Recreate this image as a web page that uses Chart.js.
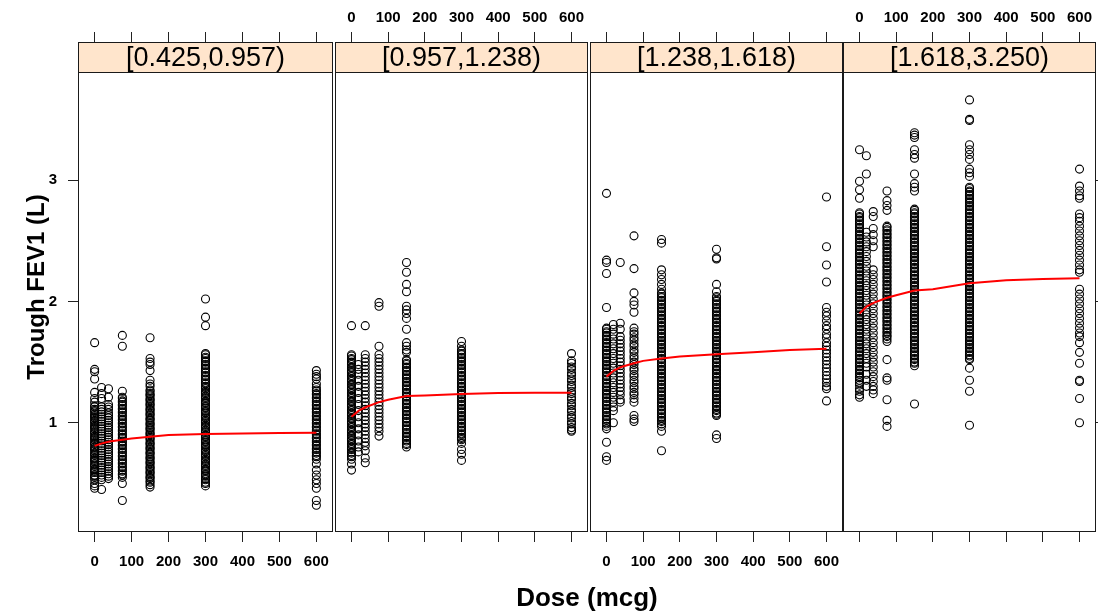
<!DOCTYPE html>
<html>
<head>
<meta charset="utf-8">
<script src="https://cdn.jsdelivr.net/npm/chart.js@4/dist/chart.umd.min.js"></script>
<style>
  body { margin: 0; background: #fff; }
  #wrap { position: relative; width: 1098px; height: 614px; overflow: hidden;
          font-family: "Liberation Sans", Arial, sans-serif; }
  #wrap canvas { position: absolute; left: 0; top: 0; }
  .xlab { position: absolute; left: 387px; top: 582px; width: 400px; line-height: 30px;
          text-align: center; font-weight: bold; font-size: 26px; color: #000; }
  .ylab { position: absolute; left: -114px; top: 272px; width: 300px; line-height: 30px;
          text-align: center; font-weight: bold; font-size: 24px; color: #000;
          transform: rotate(-90deg); }
</style>
</head>
<body>
<div id="wrap">
  <canvas id="p0" width="1098" height="614"></canvas>
  <canvas id="p1" width="1098" height="614"></canvas>
  <canvas id="p2" width="1098" height="614"></canvas>
  <canvas id="p3" width="1098" height="614"></canvas>
  <div class="ylab">Trough FEV1 (L)</div>
  <div class="xlab">Dose (mcg)</div>
</div>
<script>
// Baseline FEV1 groups (one panel each)
const strips = ["[0.425,0.957)", "[0.957,1.238)", "[1.238,1.618)", "[1.618,3.250)"];
const doses = [0, 18.75, 37.5, 75, 150, 300, 600];
const xTicks = [0, 100, 200, 300, 400, 500, 600];
const yTicks = [1, 2, 3];

// observed trough FEV1 per dose, panel 1
const obs1 = [
  [1.66,1.44,1.42,1.36,1.25,1.20,1.17,1.14,1.13,1.11,1.10,1.09,1.07,1.06,1.05,1.04,1.02,1.01,1.00,0.98,0.97,0.96,0.95,0.93,0.92,0.91,0.89,0.88,0.87,0.86,0.84,0.83,0.82,0.80,0.79,0.78,0.77,0.75,0.74,0.73,0.71,0.70,0.69,0.68,0.66,0.65,0.64,0.62,0.61,0.60,0.59,0.57,0.56,0.55,0.53,0.50,0.48,0.46],
  [1.29,1.24,1.20,1.13,1.11,1.09,1.07,1.05,1.03,1.01,0.99,0.97,0.95,0.93,0.91,0.89,0.87,0.85,0.83,0.81,0.79,0.77,0.75,0.73,0.71,0.69,0.67,0.65,0.63,0.61,0.59,0.57,0.55,0.53,0.45],
  [1.28,1.21,1.15,1.13,1.11,1.08,1.06,1.04,1.02,1.00,0.98,0.96,0.94,0.92,0.90,0.88,0.86,0.84,0.82,0.80,0.78,0.76,0.74,0.72,0.70,0.68,0.66,0.64,0.62,0.60,0.58,0.56,0.54],
  [1.72,1.63,1.26,1.21,1.20,1.18,1.17,1.15,1.14,1.12,1.11,1.09,1.08,1.06,1.05,1.03,1.02,1.00,0.99,0.97,0.96,0.94,0.93,0.91,0.90,0.88,0.87,0.85,0.84,0.82,0.81,0.79,0.78,0.76,0.75,0.73,0.72,0.70,0.69,0.67,0.66,0.64,0.63,0.61,0.60,0.58,0.57,0.55,0.50,0.36],
  [1.70,1.53,1.50,1.48,1.43,1.35,1.32,1.30,1.27,1.26,1.24,1.23,1.22,1.20,1.19,1.18,1.16,1.15,1.14,1.12,1.11,1.10,1.08,1.07,1.06,1.04,1.03,1.02,1.00,0.99,0.98,0.96,0.95,0.94,0.92,0.91,0.90,0.88,0.87,0.86,0.84,0.83,0.82,0.80,0.79,0.78,0.76,0.75,0.74,0.72,0.71,0.70,0.68,0.67,0.66,0.64,0.63,0.62,0.60,0.59,0.58,0.56,0.55,0.54,0.52,0.51,0.49,0.47],
  [2.02,1.87,1.80,1.57,1.56,1.54,1.53,1.51,1.50,1.48,1.47,1.45,1.44,1.42,1.41,1.39,1.38,1.36,1.35,1.33,1.32,1.30,1.29,1.28,1.26,1.25,1.24,1.22,1.21,1.20,1.18,1.17,1.16,1.14,1.13,1.12,1.10,1.09,1.08,1.06,1.05,1.04,1.02,1.01,1.00,0.98,0.97,0.96,0.94,0.93,0.92,0.90,0.89,0.88,0.86,0.85,0.84,0.82,0.81,0.80,0.78,0.77,0.76,0.74,0.73,0.72,0.70,0.69,0.68,0.66,0.65,0.64,0.62,0.61,0.60,0.58,0.57,0.56,0.54,0.53,0.51,0.50,0.48],
  [1.43,1.40,1.38,1.36,1.32,1.29,1.27,1.26,1.24,1.23,1.21,1.20,1.18,1.17,1.15,1.14,1.12,1.11,1.09,1.08,1.06,1.05,1.03,1.02,1.00,0.99,0.97,0.96,0.94,0.93,0.91,0.90,0.88,0.87,0.85,0.84,0.82,0.81,0.79,0.78,0.76,0.75,0.73,0.72,0.70,0.66,0.61,0.57,0.53,0.50,0.46,0.36,0.32]
];
// panel 2
const obs2 = [
  [1.80,1.56,1.55,1.53,1.52,1.50,1.49,1.48,1.46,1.45,1.43,1.42,1.41,1.39,1.38,1.36,1.35,1.34,1.32,1.31,1.29,1.28,1.27,1.25,1.24,1.22,1.21,1.20,1.18,1.17,1.15,1.14,1.13,1.11,1.10,1.08,1.07,1.06,1.04,1.03,1.01,1.00,0.99,0.97,0.96,0.94,0.93,0.92,0.90,0.89,0.87,0.86,0.85,0.83,0.82,0.80,0.79,0.78,0.76,0.75,0.73,0.72,0.70,0.66,0.61],
  [1.48,1.44,1.40,1.35,1.30,1.25,1.20,1.15,1.10,1.05,1.00,0.95,0.90,0.85,0.80,0.76],
  [1.80,1.56,1.53,1.50,1.47,1.44,1.41,1.38,1.35,1.32,1.29,1.26,1.23,1.20,1.17,1.14,1.11,1.08,1.05,1.02,0.99,0.96,0.93,0.90,0.87,0.84,0.81,0.77,0.71,0.67],
  [1.99,1.96,1.63,1.56,1.53,1.50,1.47,1.44,1.41,1.38,1.35,1.32,1.29,1.26,1.23,1.20,1.17,1.14,1.11,1.08,1.05,1.02,0.99,0.96,0.93,0.89],
  [2.32,2.24,2.14,2.08,1.96,1.93,1.90,1.86,1.77,1.66,1.63,1.60,1.58,1.52,1.51,1.49,1.48,1.46,1.45,1.43,1.42,1.40,1.39,1.37,1.36,1.34,1.33,1.31,1.30,1.28,1.27,1.25,1.24,1.22,1.21,1.19,1.18,1.16,1.15,1.13,1.12,1.10,1.09,1.07,1.06,1.04,1.03,1.01,1.00,0.98,0.97,0.95,0.94,0.92,0.91,0.89,0.88,0.86,0.85,0.83,0.82,0.80],
  [1.67,1.63,1.60,1.59,1.57,1.56,1.54,1.53,1.51,1.50,1.48,1.47,1.45,1.44,1.42,1.41,1.39,1.38,1.36,1.35,1.33,1.32,1.30,1.29,1.27,1.26,1.24,1.23,1.21,1.20,1.18,1.17,1.15,1.14,1.12,1.11,1.09,1.08,1.06,1.05,1.03,1.02,1.00,0.99,0.97,0.96,0.94,0.93,0.91,0.90,0.88,0.87,0.86,0.83,0.78,0.74,0.69],
  [1.57,1.51,1.49,1.46,1.44,1.41,1.39,1.36,1.34,1.31,1.29,1.26,1.24,1.21,1.19,1.16,1.14,1.11,1.09,1.06,1.04,1.01,0.99,0.96,0.94,0.93]
];
// panel 3
const obs3 = [
  [2.89,2.34,2.32,2.23,1.95,1.78,1.77,1.75,1.74,1.72,1.71,1.69,1.68,1.66,1.65,1.63,1.62,1.60,1.59,1.57,1.56,1.54,1.53,1.51,1.50,1.48,1.47,1.45,1.44,1.42,1.41,1.39,1.38,1.36,1.35,1.33,1.32,1.30,1.29,1.27,1.26,1.24,1.23,1.21,1.20,1.18,1.17,1.15,1.14,1.12,1.11,1.09,1.08,1.06,1.05,1.03,1.02,1.00,0.99,0.97,0.95,0.84,0.72,0.69],
  [1.81,1.77,1.73,1.69,1.65,1.61,1.57,1.53,1.49,1.45,1.41,1.37,1.33,1.29,1.25,1.21,1.17,1.13,1.10,1.00],
  [2.32,1.82,1.77,1.71,1.68,1.65,1.62,1.59,1.56,1.53,1.50,1.47,1.44,1.41,1.38,1.35,1.32,1.29,1.26,1.23,1.19,1.17],
  [2.54,2.27,2.07,2.00,1.97,1.91,1.78,1.75,1.73,1.70,1.68,1.65,1.63,1.60,1.58,1.55,1.53,1.50,1.48,1.45,1.43,1.40,1.38,1.35,1.33,1.30,1.28,1.25,1.23,1.20,1.17,1.06,1.03,1.01],
  [2.51,2.48,2.26,2.22,2.18,2.14,2.10,2.07,2.06,2.04,2.03,2.01,2.00,1.98,1.97,1.95,1.94,1.92,1.91,1.89,1.88,1.86,1.85,1.83,1.82,1.80,1.79,1.77,1.76,1.74,1.73,1.71,1.70,1.68,1.67,1.65,1.64,1.62,1.61,1.59,1.58,1.56,1.55,1.53,1.52,1.50,1.49,1.47,1.46,1.44,1.43,1.41,1.40,1.38,1.37,1.35,1.34,1.32,1.31,1.29,1.28,1.26,1.25,1.23,1.22,1.20,1.19,1.17,1.16,1.14,1.13,1.11,1.10,1.08,1.07,1.05,1.04,1.02,1.01,0.99,0.97,0.93,0.77],
  [2.43,2.36,2.35,2.14,2.08,2.04,2.03,2.01,2.00,1.98,1.97,1.95,1.94,1.92,1.91,1.89,1.88,1.86,1.85,1.83,1.82,1.80,1.79,1.77,1.76,1.74,1.73,1.71,1.70,1.68,1.67,1.65,1.64,1.62,1.61,1.59,1.58,1.56,1.55,1.53,1.52,1.50,1.49,1.47,1.46,1.44,1.43,1.41,1.40,1.38,1.37,1.35,1.34,1.32,1.31,1.29,1.28,1.26,1.25,1.23,1.22,1.20,1.19,1.17,1.16,1.14,1.13,1.11,1.10,1.08,1.07,1.06,0.90,0.87],
  [2.86,2.45,2.30,2.16,1.95,1.91,1.88,1.84,1.80,1.77,1.73,1.70,1.66,1.63,1.60,1.57,1.54,1.51,1.48,1.45,1.42,1.39,1.36,1.33,1.30,1.28,1.18]
];
// panel 4
const obs4 = [
  [3.25,2.99,2.92,2.85,2.73,2.72,2.70,2.69,2.67,2.66,2.64,2.63,2.61,2.60,2.58,2.57,2.55,2.54,2.52,2.51,2.49,2.48,2.46,2.45,2.43,2.42,2.40,2.39,2.37,2.36,2.34,2.33,2.31,2.30,2.28,2.27,2.25,2.24,2.22,2.21,2.19,2.18,2.16,2.15,2.13,2.12,2.10,2.09,2.07,2.06,2.04,2.03,2.01,2.00,1.98,1.97,1.95,1.94,1.92,1.91,1.89,1.88,1.86,1.85,1.83,1.82,1.80,1.79,1.77,1.76,1.74,1.73,1.71,1.70,1.68,1.67,1.65,1.64,1.62,1.61,1.59,1.58,1.56,1.55,1.53,1.52,1.50,1.49,1.47,1.46,1.44,1.43,1.41,1.40,1.38,1.37,1.35,1.33,1.31,1.28,1.26,1.23,1.21],
  [3.20,3.05,2.57,2.53,2.49,2.45,2.41,2.37,2.33,2.29,2.25,2.21,2.17,2.13,2.09,2.05,2.01,1.97,1.93,1.89,1.85,1.81,1.77,1.73,1.69,1.65,1.61,1.57,1.53,1.49,1.46,1.40,1.35,1.30],
  [2.74,2.70,2.60,2.55,2.50,2.45,2.26,2.22,2.18,2.14,2.10,2.06,2.02,1.98,1.94,1.90,1.86,1.82,1.78,1.74,1.70,1.66,1.62,1.58,1.54,1.50,1.46,1.42,1.38,1.34,1.30,1.27,1.24],
  [2.91,2.83,2.79,2.75,2.62,2.61,2.59,2.58,2.56,2.55,2.53,2.52,2.50,2.49,2.47,2.46,2.44,2.43,2.41,2.40,2.38,2.37,2.35,2.34,2.32,2.31,2.29,2.28,2.26,2.25,2.23,2.22,2.20,2.19,2.17,2.16,2.14,2.13,2.11,2.10,2.08,2.07,2.05,2.04,2.02,2.01,1.99,1.98,1.96,1.95,1.93,1.92,1.90,1.89,1.87,1.86,1.84,1.83,1.81,1.80,1.78,1.77,1.75,1.74,1.72,1.71,1.69,1.67,1.52,1.37,1.35,1.19,1.02,0.97],
  [3.39,3.37,3.35,3.25,3.21,3.18,3.05,2.97,2.94,2.91,2.76,2.75,2.73,2.72,2.70,2.69,2.67,2.66,2.64,2.63,2.61,2.60,2.58,2.57,2.55,2.54,2.52,2.51,2.49,2.48,2.46,2.45,2.43,2.42,2.40,2.39,2.37,2.36,2.34,2.33,2.31,2.30,2.28,2.27,2.25,2.24,2.22,2.21,2.19,2.18,2.16,2.15,2.13,2.12,2.10,2.09,2.07,2.06,2.04,2.03,2.01,2.00,1.98,1.97,1.95,1.94,1.92,1.91,1.89,1.88,1.86,1.85,1.83,1.82,1.80,1.79,1.77,1.76,1.74,1.73,1.71,1.70,1.68,1.67,1.65,1.64,1.62,1.61,1.59,1.58,1.56,1.55,1.53,1.52,1.50,1.49,1.47,1.155],
  [3.66,3.50,3.49,3.29,3.25,3.21,3.17,3.09,3.06,3.03,2.94,2.93,2.91,2.90,2.88,2.87,2.85,2.84,2.82,2.81,2.79,2.78,2.76,2.75,2.73,2.72,2.70,2.69,2.67,2.66,2.64,2.63,2.61,2.60,2.58,2.57,2.55,2.54,2.52,2.51,2.49,2.48,2.46,2.45,2.43,2.42,2.40,2.39,2.37,2.36,2.34,2.33,2.31,2.30,2.28,2.27,2.25,2.24,2.22,2.21,2.19,2.18,2.16,2.15,2.13,2.12,2.10,2.09,2.07,2.06,2.04,2.03,2.01,2.00,1.98,1.97,1.95,1.94,1.92,1.91,1.89,1.88,1.86,1.85,1.83,1.82,1.80,1.79,1.77,1.76,1.74,1.73,1.71,1.70,1.68,1.67,1.65,1.64,1.62,1.61,1.59,1.58,1.56,1.55,1.53,1.52,1.45,1.35,1.26,0.98],
  [3.09,2.95,2.91,2.87,2.85,2.72,2.69,2.66,2.62,2.58,2.54,2.50,2.46,2.42,2.38,2.34,2.30,2.26,2.24,2.10,2.06,2.02,1.98,1.94,1.90,1.86,1.82,1.78,1.74,1.71,1.66,1.58,1.49,1.35,1.34,1.20,1.00]
];

// fitted dose-response curve per panel
const fitDoses = [0, 20, 40, 75, 100, 150, 200, 300, 400, 500, 600];
const fit1 = [0.81, 0.83, 0.845, 0.86, 0.87, 0.885, 0.90, 0.907, 0.912, 0.915, 0.917];
const fit2 = [1.05, 1.10, 1.13, 1.17, 1.19, 1.22, 1.225, 1.237, 1.245, 1.248, 1.248];
const fit3 = [1.38, 1.43, 1.46, 1.49, 1.51, 1.53, 1.545, 1.565, 1.58, 1.60, 1.61];
const fit4 = [1.90, 1.96, 1.99, 2.03, 2.05, 2.09, 2.10, 2.15, 2.175, 2.185, 2.19];

const allObs = [obs1, obs2, obs3, obs4];
const allFit = [fit1, fit2, fit3, fit4];

// panel edges in pixels
const edges = [78, 333, 588, 843, 1096];
const FONT = '"Liberation Sans", Arial, sans-serif';
Chart.defaults.font.family = FONT;

// peach strip behind the title block + panel frame
const stripFrame = {
  id: 'stripFrame',
  beforeDraw(chart) {
    const t = chart.titleBlock, ctx = chart.ctx;
    ctx.save();
    ctx.fillStyle = '#ffe5cc';
    ctx.fillRect(t.left, t.top, t.width, t.height);
    ctx.restore();
  },
  afterDraw(chart) {
    const t = chart.titleBlock, a = chart.chartArea, ctx = chart.ctx;
    const l = Math.round(a.left) + 0.5, r = Math.round(a.right) - 0.5;
    const top = Math.round(t.top) + 0.5, mid = Math.round(a.top) + 0.5, bot = Math.round(a.bottom) - 0.5;
    ctx.save();
    ctx.strokeStyle = '#1a1a1a';
    ctx.lineWidth = 1;
    ctx.strokeRect(l, top, r - l, bot - top);
    ctx.beginPath();
    ctx.moveTo(l, mid); ctx.lineTo(r, mid);
    ctx.stroke();
    ctx.restore();
  }
};

// keep the x axes from reserving side room for their end labels
function fixX(h) {
  return s => { s.height = h; s.paddingLeft = 0; s.paddingRight = 0; };
}

function makePanel(i) {
  const pts = [];
  allObs[i].forEach((vals, j) => vals.forEach(v => pts.push({ x: doses[j], y: v })));
  const curve = fitDoses.map((d, k) => ({ x: d, y: allFit[i][k] }));

  const tickFont = { family: FONT, size: 15, weight: 'bold' };
  const showTop = i % 2 === 1, showBottom = i % 2 === 0;

  new Chart(document.getElementById('p' + i), {
    type: 'scatter',
    data: {
      datasets: [
        { type: 'line', data: curve, borderColor: '#ff0000', borderWidth: 2,
          pointRadius: 0, tension: 0, fill: false },
        { data: pts, pointStyle: 'circle', pointRadius: 4, borderWidth: 1.1,
          borderColor: '#000', backgroundColor: 'rgba(0,0,0,0)' }
      ]
    },
    options: {
      responsive: false,
      animation: false,
      devicePixelRatio: 1,
      layout: {
        autoPadding: false,
        padding: {
          left: i === 0 ? 0 : edges[i],
          right: i === 3 ? 0 : 1098 - edges[i + 1],
          top: 0,
          bottom: 42
        }
      },
      plugins: {
        legend: { display: false },
        tooltip: { enabled: false },
        title: {
          display: true, text: strips[i], position: 'top', fullSize: false,
          color: '#000', font: { family: FONT, size: 27, weight: 'normal', lineHeight: 1 },
          padding: { top: 3, bottom: 0 }
        }
      },
      scales: {
        x: {
          type: 'linear', min: -45, max: 645, position: 'bottom',
          afterBuildTicks: s => { s.ticks = xTicks.map(v => ({ value: v })); },
          afterFit: fixX(40),
          grid: { drawOnChartArea: false, drawTicks: true, tickLength: 10, tickColor: '#222' },
          border: { display: false },
          ticks: { display: showBottom, font: tickFont, color: '#000', padding: 11,
                   maxRotation: 0, autoSkip: false }
        },
        xTop: {
          type: 'linear', min: -45, max: 645, position: 'top', weight: 3000,
          afterBuildTicks: s => { s.ticks = xTicks.map(v => ({ value: v })); },
          afterFit: fixX(42),
          grid: { drawOnChartArea: false, drawTicks: true, tickLength: 10, tickColor: '#222' },
          border: { display: false },
          ticks: { display: showTop, font: tickFont, color: '#000', padding: 5,
                   maxRotation: 0, autoSkip: false }
        },
        y: {
          type: 'linear', min: 0.1, max: 3.89,
          display: i === 0 || i === 3,
          position: i === 3 ? 'right' : 'left',
          afterBuildTicks: s => { s.ticks = yTicks.map(v => ({ value: v })); },
          afterFit: s => { s.width = i === 0 ? 78 : 2; },
          grid: { drawOnChartArea: false, drawTicks: true, tickLength: i === 0 ? 10 : 6, tickColor: '#222' },
          border: { display: false },
          ticks: { display: i === 0, font: tickFont, color: '#000', padding: 11 }
        }
      }
    },
    plugins: [stripFrame]
  });
}

[0, 1, 2, 3].forEach(makePanel);
</script>
</body>
</html>
